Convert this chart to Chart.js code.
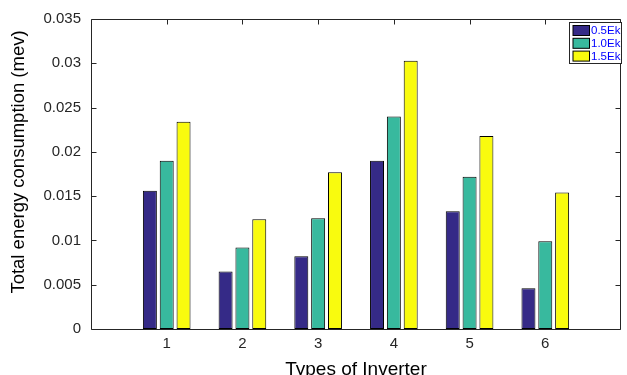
<!DOCTYPE html>
<html>
<head>
<meta charset="utf-8">
<script src="https://cdn.jsdelivr.net/npm/chart.js@4/dist/chart.umd.min.js"></script>
<style>
html,body{margin:0;padding:0;background:#fff;overflow:hidden;}
#wrap{width:627px;height:375px;position:relative;}
</style>
</head>
<body>
<div id="wrap"><canvas id="c" width="627" height="375"></canvas></div>
<script>
const categories = ['1', '2', '3', '4', '5', '6'];
const seriesNames = ['0.5Ek', '1.0Ek', '1.5Ek'];
const series05 = [0.0156, 0.0065, 0.0082, 0.0190, 0.0133, 0.0046];
const series10 = [0.0190, 0.0092, 0.0125, 0.0240, 0.0172, 0.0099];
const series15 = [0.0234, 0.0124, 0.0177, 0.0303, 0.0218, 0.0154];
const yTickLabels = ['0', '0.005', '0.01', '0.015', '0.02', '0.025', '0.03', '0.035'];
const seriesColors = ['#352A87', '#38B99E', '#F9FB0E'];
const xTitle = 'Types of Inverter';
const yTitle = 'Total energy consumption (mev)';

const FONT = '"Liberation Sans", Arial, Helvetica, sans-serif';
const AXIS = '#262626';

// x axis runs 0..7 like the original; end slots are empty
const labels = [''].concat(categories, ['']);
const pad = arr => [null].concat(arr, [null]);

const boxTicksPlugin = {
  id: 'boxTicks',
  beforeDatasetsDraw(chart) {
    const {ctx, chartArea: a, scales: {x, y}} = chart;
    const L = Math.round(a.left) + 0.5, R = Math.round(a.right) - 0.5;
    const T = Math.round(a.top) + 0.5, B = Math.round(a.bottom) + 0.5;
    const tl = 5;
    ctx.save();
    ctx.strokeStyle = AXIS;
    ctx.lineWidth = 1;
    ctx.beginPath();
    ctx.rect(L, T, R - L, B - T);
    y.ticks.forEach(t => {
      const py = Math.round(y.getPixelForValue(t.value)) + 0.5;
      ctx.moveTo(L, py); ctx.lineTo(L + tl, py);
      ctx.moveTo(R, py); ctx.lineTo(R - tl, py);
    });
    categories.forEach((c, i) => {
      const px = Math.round(x.getPixelForValue(i + 1)) + 0.5;
      ctx.moveTo(px, B); ctx.lineTo(px, B - tl);
      ctx.moveTo(px, T); ctx.lineTo(px, T + tl);
    });
    ctx.stroke();
    // y axis title (placed like the original, slightly above centre)
    ctx.fillStyle = '#000';
    ctx.font = '18.5px ' + FONT;
    ctx.textAlign = 'center';
    ctx.textBaseline = 'alphabetic';
    ctx.translate(23.5, a.top + (a.bottom - a.top) / 2 - 12);
    ctx.rotate(-Math.PI / 2);
    ctx.fillText(yTitle, 0, 0);
    ctx.restore();
  },
  afterDraw(chart) {
    const {ctx} = chart;
    const bx = 569.5, by = 22.5, bw = 52, bh = 41;
    ctx.save();
    ctx.fillStyle = '#fff';
    ctx.fillRect(bx, by, bw, bh);
    ctx.strokeStyle = AXIS;
    ctx.lineWidth = 1;
    ctx.strokeRect(bx, by, bw, bh);
    ctx.font = '11.5px ' + FONT;
    ctx.textBaseline = 'middle';
    ctx.textAlign = 'left';
    chart.data.datasets.forEach((ds, i) => {
      const sy = 25.5 + i * 12.8;
      ctx.fillStyle = ds.backgroundColor;
      ctx.fillRect(573, sy, 16.5, 10);
      ctx.strokeStyle = '#000';
      ctx.strokeRect(573, sy, 16.5, 10);
      ctx.fillStyle = '#0000ff';
      ctx.fillText(ds.label, 591, sy + 5.5);
    });
    ctx.restore();
  }
};

new Chart(document.getElementById('c'), {
  type: 'bar',
  data: {
    labels: labels,
    datasets: [
      {label: seriesNames[0], data: pad(series05), backgroundColor: seriesColors[0]},
      {label: seriesNames[1], data: pad(series10), backgroundColor: seriesColors[1]},
      {label: seriesNames[2], data: pad(series15), backgroundColor: seriesColors[2]}
    ]
  },
  options: {
    responsive: false,
    animation: false,
    devicePixelRatio: 1,
    layout: {padding: {left: 0, right: 0, top: 16, bottom: 0}},
    datasets: {
      bar: {
        borderColor: '#000',
        borderWidth: 1,
        borderSkipped: false,
        categoryPercentage: 0.667,
        barPercentage: 0.83
      }
    },
    plugins: {
      legend: {display: false},
      tooltip: {enabled: false}
    },
    scales: {
      x: {
        type: 'category',
        offset: false,
        grid: {display: false, drawTicks: false},
        border: {display: false},
        ticks: {
          color: AXIS,
          font: {family: FONT, size: 15},
          padding: 6,
          maxRotation: 0,
          autoSkip: false
        },
        title: {
          display: true,
          text: xTitle,
          color: '#000',
          font: {family: FONT, size: 19},
          padding: {top: 0, bottom: -6}
        },
        afterFit(scale) { scale.height = 46; }
      },
      y: {
        min: 0,
        max: 0.035,
        grid: {display: false, drawTicks: false},
        border: {display: false},
        ticks: {
          stepSize: 0.005,
          color: AXIS,
          font: {family: FONT, size: 15},
          padding: 10,
          callback: (v, i) => yTickLabels[i]
        },
        title: {display: false},
        afterFit(scale) { scale.width = 91; }
      }
    }
  },
  plugins: [boxTicksPlugin]
});
</script>
</body>
</html>
